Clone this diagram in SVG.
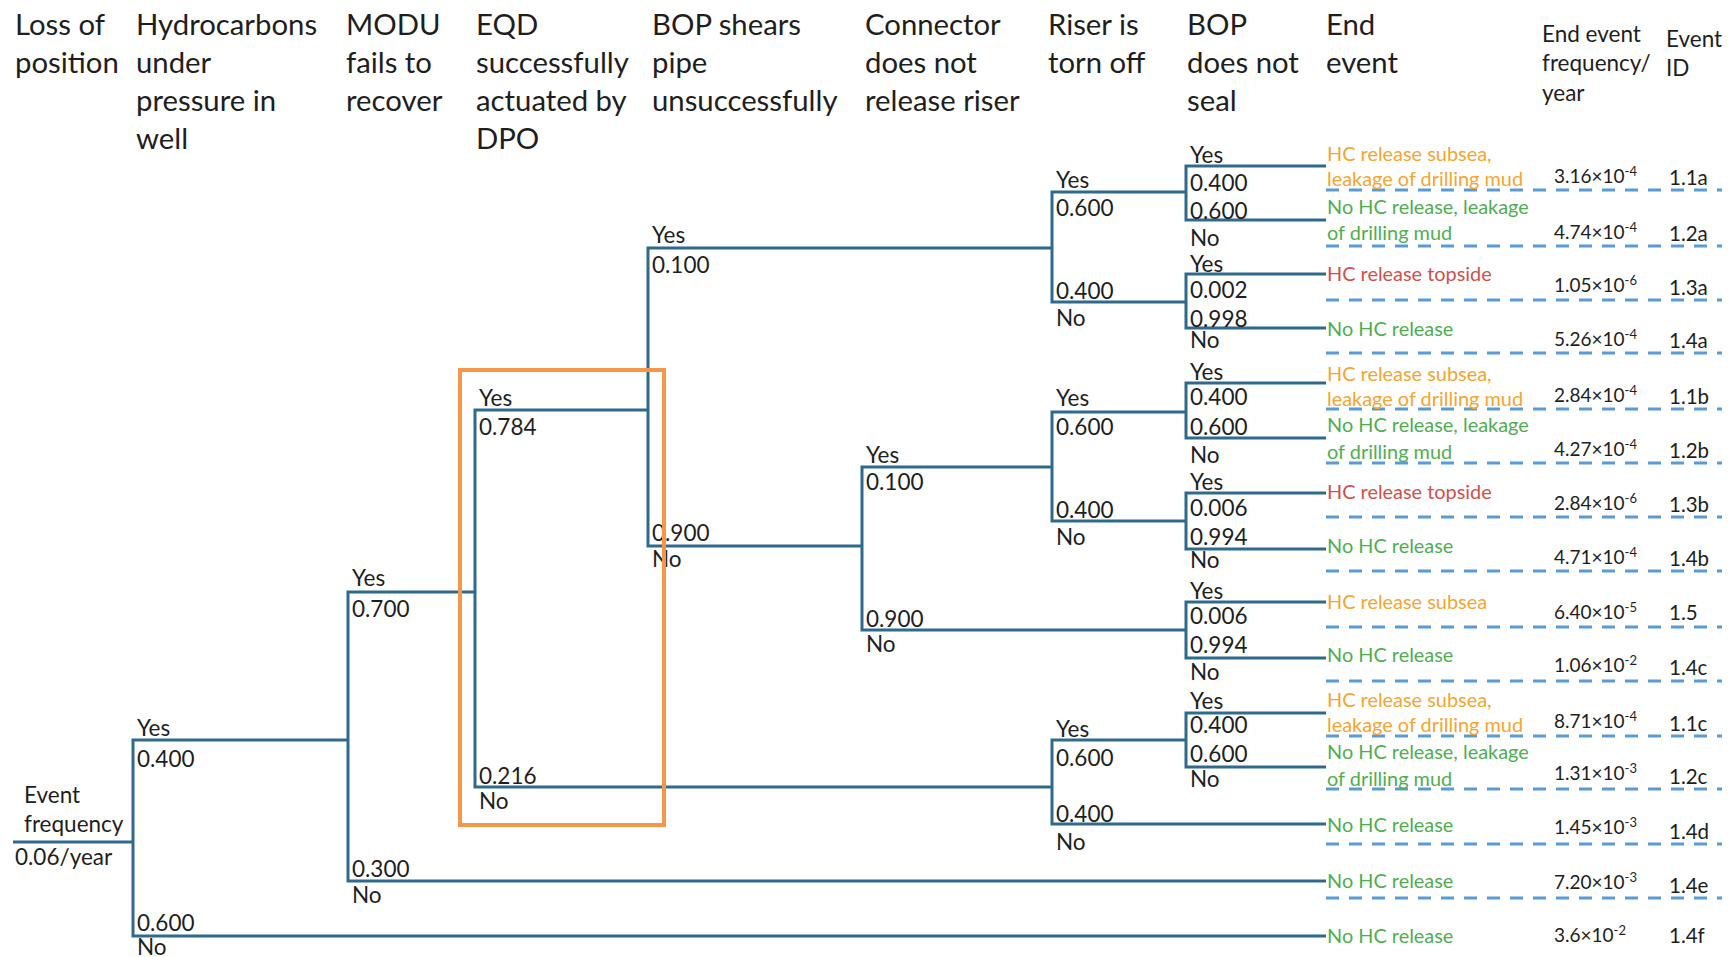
<svg xmlns="http://www.w3.org/2000/svg" width="1728" height="957" viewBox="0 0 1728 957">
<style>
text{font-family:Lato,"Open Sans","Liberation Sans",sans-serif;fill:#1e1e1e}
.h{font-size:29.3px}
.hs{font-size:22.5px}
.t{font-size:22.5px}
.e{font-size:19.9px}
.f{font-size:19px}
.id{font-size:20.5px}
.sup{font-size:13px}
.or{fill:#F4A530}
.gr{fill:#4FAE4F}
.rd{fill:#D0504A}
.br{fill:none;stroke:#2E6A8C;stroke-width:3}
.ds{fill:none;stroke:#5B9BD5;stroke-width:3;stroke-dasharray:13 10}
.box{fill:none;stroke:#F79646;stroke-width:4}
</style>
<rect width="1728" height="957" fill="#ffffff"/>

<g id="headers">
<text class="h" x="15" y="35">Loss of</text><text class="h" x="15" y="73">position</text>
<text class="h" x="136" y="35">Hydrocarbons</text><text class="h" x="136" y="73">under</text><text class="h" x="136" y="111">pressure in</text><text class="h" x="136" y="149">well</text>
<text class="h" x="346" y="35">MODU</text><text class="h" x="346" y="73">fails to</text><text class="h" x="346" y="111">recover</text>
<text class="h" x="476" y="35">EQD</text><text class="h" x="476" y="73">successfully</text><text class="h" x="476" y="111">actuated by</text><text class="h" x="476" y="149">DPO</text>
<text class="h" x="652" y="35">BOP shears</text><text class="h" x="652" y="73">pipe</text><text class="h" x="652" y="111">unsuccessfully</text>
<text class="h" x="865" y="35">Connector</text><text class="h" x="865" y="73">does not</text><text class="h" x="865" y="111">release riser</text>
<text class="h" x="1048" y="35">Riser is</text><text class="h" x="1048" y="73">torn off</text>
<text class="h" x="1187" y="35">BOP</text><text class="h" x="1187" y="73">does not</text><text class="h" x="1187" y="111">seal</text>
<text class="h" x="1326" y="35">End</text><text class="h" x="1326" y="73">event</text>
<text class="hs" x="1542" y="42">End event</text><text class="hs" x="1542" y="71">frequency/</text><text class="hs" x="1542" y="101">year</text>
<text class="hs" x="1666" y="47">Event</text><text class="hs" x="1666" y="76">ID</text>
</g>

<g id="connectors">
<path class="br" d="M13,842 H133"/>
<path class="br" d="M348,740 H133 V936 H1326"/>
<path class="br" d="M475,592 H348 V881 H1326"/>
<path class="br" d="M648,410 H475 V787 H1052"/>
<path class="br" d="M1052,248 H648 V546 H862"/>
<path class="br" d="M1052,467 H862 V630 H1186"/>
<path class="br" d="M1186,192 H1052 V302 H1186"/>
<path class="br" d="M1186,412 H1052 V521 H1186"/>
<path class="br" d="M1186,740 H1052 V824 H1326"/>
<path class="br" d="M1326,166 H1186 V220 H1326"/>
<path class="br" d="M1326,274 H1186 V328 H1326"/>
<path class="br" d="M1326,383 H1186 V438 H1326"/>
<path class="br" d="M1326,493 H1186 V549 H1326"/>
<path class="br" d="M1326,602 H1186 V658 H1326"/>
<path class="br" d="M1326,713 H1186 V767 H1326"/>
</g>

<g id="rows">
<path class="ds" d="M1326,190 H1722 M1326,246 H1722 M1326,300 H1722 M1326,353 H1722 M1326,409 H1722 M1326,463 H1722 M1326,517 H1722 M1326,571 H1722 M1326,627 H1722 M1326,681 H1722 M1326,736 H1722 M1326,789 H1722 M1326,844 H1722 M1326,898 H1722"/>
</g>

<g id="start">
<text class="t" x="24" y="803">Event</text>
<text class="t" x="24" y="832">frequency</text>
<text class="t" x="15" y="865">0.06/year</text>
</g>

<g id="n-position">
<text class="t" x="137" y="736">Yes</text><text class="t" x="137" y="767">0.400</text>
<text class="t" x="137" y="931">0.600</text><text class="t" x="137" y="955">No</text>
</g>
<g id="n-hydrocarbons">
<text class="t" x="352" y="586">Yes</text><text class="t" x="352" y="617">0.700</text>
<text class="t" x="352" y="877">0.300</text><text class="t" x="352" y="903">No</text>
</g>
<g id="n-modu">
<text class="t" x="479" y="406">Yes</text><text class="t" x="479" y="435">0.784</text>
<text class="t" x="479" y="784">0.216</text><text class="t" x="479" y="809">No</text>
</g>
<g id="n-eqd-yes">
<text class="t" x="652" y="243">Yes</text><text class="t" x="652" y="273">0.100</text>
<text class="t" x="652" y="541">0.900</text><text class="t" x="652" y="567">No</text>
</g>
<g id="n-bop-shears-no">
<text class="t" x="866" y="463">Yes</text><text class="t" x="866" y="490">0.100</text>
<text class="t" x="866" y="627">0.900</text><text class="t" x="866" y="652">No</text>
</g>
<g id="n-riser-a">
<text class="t" x="1056" y="188">Yes</text><text class="t" x="1056" y="216">0.600</text>
<text class="t" x="1056" y="299">0.400</text><text class="t" x="1056" y="326">No</text>
</g>
<g id="n-riser-b">
<text class="t" x="1056" y="406">Yes</text><text class="t" x="1056" y="435">0.600</text>
<text class="t" x="1056" y="518">0.400</text><text class="t" x="1056" y="545">No</text>
</g>
<g id="n-riser-c">
<text class="t" x="1056" y="737">Yes</text><text class="t" x="1056" y="766">0.600</text>
<text class="t" x="1056" y="822">0.400</text><text class="t" x="1056" y="850">No</text>
</g>
<g id="n-seal-a1">
<text class="t" x="1190" y="163">Yes</text><text class="t" x="1190" y="191">0.400</text>
<text class="t" x="1190" y="219">0.600</text><text class="t" x="1190" y="246">No</text>
</g>
<g id="n-seal-a2">
<text class="t" x="1190" y="272">Yes</text><text class="t" x="1190" y="298">0.002</text>
<text class="t" x="1190" y="327">0.998</text><text class="t" x="1190" y="348">No</text>
</g>
<g id="n-seal-b1">
<text class="t" x="1190" y="380">Yes</text><text class="t" x="1190" y="405">0.400</text>
<text class="t" x="1190" y="435">0.600</text><text class="t" x="1190" y="463">No</text>
</g>
<g id="n-seal-b2">
<text class="t" x="1190" y="490">Yes</text><text class="t" x="1190" y="516">0.006</text>
<text class="t" x="1190" y="545">0.994</text><text class="t" x="1190" y="568">No</text>
</g>
<g id="n-seal-c">
<text class="t" x="1190" y="599">Yes</text><text class="t" x="1190" y="624">0.006</text>
<text class="t" x="1190" y="653">0.994</text><text class="t" x="1190" y="680">No</text>
</g>
<g id="n-seal-d">
<text class="t" x="1190" y="709">Yes</text><text class="t" x="1190" y="733">0.400</text>
<text class="t" x="1190" y="762">0.600</text><text class="t" x="1190" y="787">No</text>
</g>

<g id="end-events">
<text class="e or" x="1327" y="161">HC release subsea,</text><text class="e or" x="1327" y="186">leakage of drilling mud</text>
<text class="e gr" x="1327" y="214">No HC release, leakage</text><text class="e gr" x="1327" y="240">of drilling mud</text>
<text class="e rd" x="1327" y="281">HC release topside</text>
<text class="e gr" x="1327" y="336">No HC release</text>
<text class="e or" x="1327" y="381">HC release subsea,</text><text class="e or" x="1327" y="406">leakage of drilling mud</text>
<text class="e gr" x="1327" y="432">No HC release, leakage</text><text class="e gr" x="1327" y="459">of drilling mud</text>
<text class="e rd" x="1327" y="499">HC release topside</text>
<text class="e gr" x="1327" y="553">No HC release</text>
<text class="e or" x="1327" y="609">HC release subsea</text>
<text class="e gr" x="1327" y="662">No HC release</text>
<text class="e or" x="1327" y="707">HC release subsea,</text><text class="e or" x="1327" y="732">leakage of drilling mud</text>
<text class="e gr" x="1327" y="759">No HC release, leakage</text><text class="e gr" x="1327" y="786">of drilling mud</text>
<text class="e gr" x="1327" y="832">No HC release</text>
<text class="e gr" x="1327" y="888">No HC release</text>
<text class="e gr" x="1327" y="943">No HC release</text>
</g>

<g id="frequencies">
<text class="f" x="1554" y="183">3.16×10<tspan class="sup" dy="-7">-4</tspan></text>
<text class="f" x="1554" y="239">4.74×10<tspan class="sup" dy="-7">-4</tspan></text>
<text class="f" x="1554" y="292">1.05×10<tspan class="sup" dy="-7">-6</tspan></text>
<text class="f" x="1554" y="346">5.26×10<tspan class="sup" dy="-7">-4</tspan></text>
<text class="f" x="1554" y="402">2.84×10<tspan class="sup" dy="-7">-4</tspan></text>
<text class="f" x="1554" y="456">4.27×10<tspan class="sup" dy="-7">-4</tspan></text>
<text class="f" x="1554" y="510">2.84×10<tspan class="sup" dy="-7">-6</tspan></text>
<text class="f" x="1554" y="564">4.71×10<tspan class="sup" dy="-7">-4</tspan></text>
<text class="f" x="1554" y="619">6.40×10<tspan class="sup" dy="-7">-5</tspan></text>
<text class="f" x="1554" y="672">1.06×10<tspan class="sup" dy="-7">-2</tspan></text>
<text class="f" x="1554" y="728">8.71×10<tspan class="sup" dy="-7">-4</tspan></text>
<text class="f" x="1554" y="780">1.31×10<tspan class="sup" dy="-7">-3</tspan></text>
<text class="f" x="1554" y="834">1.45×10<tspan class="sup" dy="-7">-3</tspan></text>
<text class="f" x="1554" y="889">7.20×10<tspan class="sup" dy="-7">-3</tspan></text>
<text class="f" x="1554" y="942">3.6×10<tspan class="sup" dy="-7">-2</tspan></text>
</g>

<g id="event-ids">
<text class="id" x="1669" y="185">1.1a</text>
<text class="id" x="1669" y="241">1.2a</text>
<text class="id" x="1669" y="295">1.3a</text>
<text class="id" x="1669" y="348">1.4a</text>
<text class="id" x="1669" y="404">1.1b</text>
<text class="id" x="1669" y="458">1.2b</text>
<text class="id" x="1669" y="512">1.3b</text>
<text class="id" x="1669" y="566">1.4b</text>
<text class="id" x="1669" y="620">1.5</text>
<text class="id" x="1669" y="675">1.4c</text>
<text class="id" x="1669" y="731">1.1c</text>
<text class="id" x="1669" y="784">1.2c</text>
<text class="id" x="1669" y="839">1.4d</text>
<text class="id" x="1669" y="893">1.4e</text>
<text class="id" x="1669" y="943">1.4f</text>
</g>

<g id="highlight">
<rect class="box" x="460" y="370" width="204" height="455"/>
</g>
</svg>
